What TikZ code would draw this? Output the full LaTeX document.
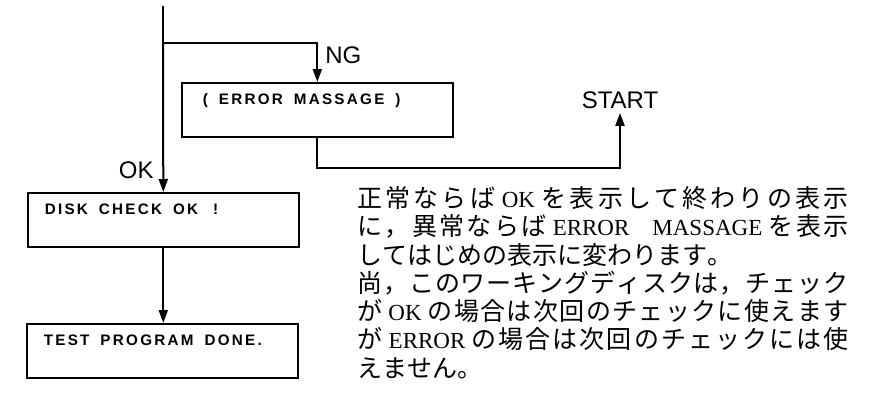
\documentclass[tikz,border=0pt]{standalone}
\usepackage{fontspec}
\usetikzlibrary{arrows.meta, positioning}
\setmainfont{Liberation Serif}
\newfontfamily\cjk{Noto Sans CJK JP}
\newfontfamily\labfont{Liberation Sans}
\newfontfamily\lcdfont[LetterSpace=15]{Liberation Sans}
% even spread between Japanese characters
\newXeTeXintercharclass\jaclass
\count255="3000
\loop\XeTeXcharclass\count255=\jaclass\ifnum\count255<"30FF\advance\count255 1\repeat
\count255="4E00
\loop\XeTeXcharclass\count255=\jaclass\ifnum\count255<"9FFF\advance\count255 1\repeat
\count255="FF01
\loop\XeTeXcharclass\count255=\jaclass\ifnum\count255<"FF5E\advance\count255 1\repeat
\XeTeXinterchartoks\jaclass\jaclass={\hskip 0pt plus 4pt\relax}
\XeTeXinterchartokenstate=1
\newcommand{\lat}[1]{{\rmfamily\fontsize{11.5}{12}\selectfont #1}}
\newcommand{\wgap}{\hspace*{5.5pt}}

\begin{document}
\begin{tikzpicture}[x=0.5pt, y=-0.5pt,
    wire/.style={line width=1pt},
    flow/.style={line width=1pt, -{Triangle[length=6.5pt, width=4.5pt]}},
    screen/.style={draw, line width=0.8pt, anchor=north west,
        text width=118.5pt, inner xsep=8.5pt, inner ysep=0pt,
        text height=11pt, text depth=16pt, align=left,
        font=\lcdfont\bfseries\fontsize{7.6}{8}\selectfont},
    tag/.style={inner sep=2pt, font=\labfont\fontsize{12}{14}\selectfont}]

    \useasboundingbox (0,0) rectangle (878,407);

    % --- 1. SCREENS ---
    \coordinate (top) at (163,6);
    \coordinate (split) at (163,43);
    \node[screen, inner xsep=10.5pt, text width=114.5pt] (err) at (181,82)
        {(\wgap ERROR\wgap MASSAGE\wgap )};
    \node[screen] (disk) at (27,192) {DISK\wgap CHECK\wgap OK\wgap\hspace*{2pt}!};
    \node[screen] (test) at (26,323) {TEST\wgap PROGRAM\wgap DONE.};

    % --- 2. LABELS ---
    \node[tag, anchor=west] (ng) at (321,55) {NG};
    \node[tag, anchor=east] (ok) at (158,170) {OK};
    \node[tag] (start) at (620,100) {START};

    % --- 3. FLOW ---
    \draw[wire] (top) -- (split);
    \draw[flow] (split) -- (disk.north);
    \draw[flow] (split) -| (err.north);
    \draw[flow] (err.south) -- ++(0,30) -| (start.south);
    \draw[flow] (disk.south) -- (disk.south |- test.north);

    % --- 4. NOTE ---
    \node[anchor=north west, inner sep=0pt, text width=245.5pt, align=justify,
        font=\cjk\fontsize{12.5}{14.15}\selectfont] (note) at (357,186) {%
        正常ならば \lat{OK} を表示して終わりの表示\linebreak
        に，異常ならば \lat{ERROR\quad MASSAGE} を表示\linebreak
        してはじめの表示に変わります。\\
        尚，このワーキングディスクは，チェック\linebreak
        が \lat{OK} の場合は次回のチェックに使えます\linebreak
        が \lat{ERROR} の場合は次回のチェックには使\linebreak
        えません。};

\end{tikzpicture}
\end{document}
